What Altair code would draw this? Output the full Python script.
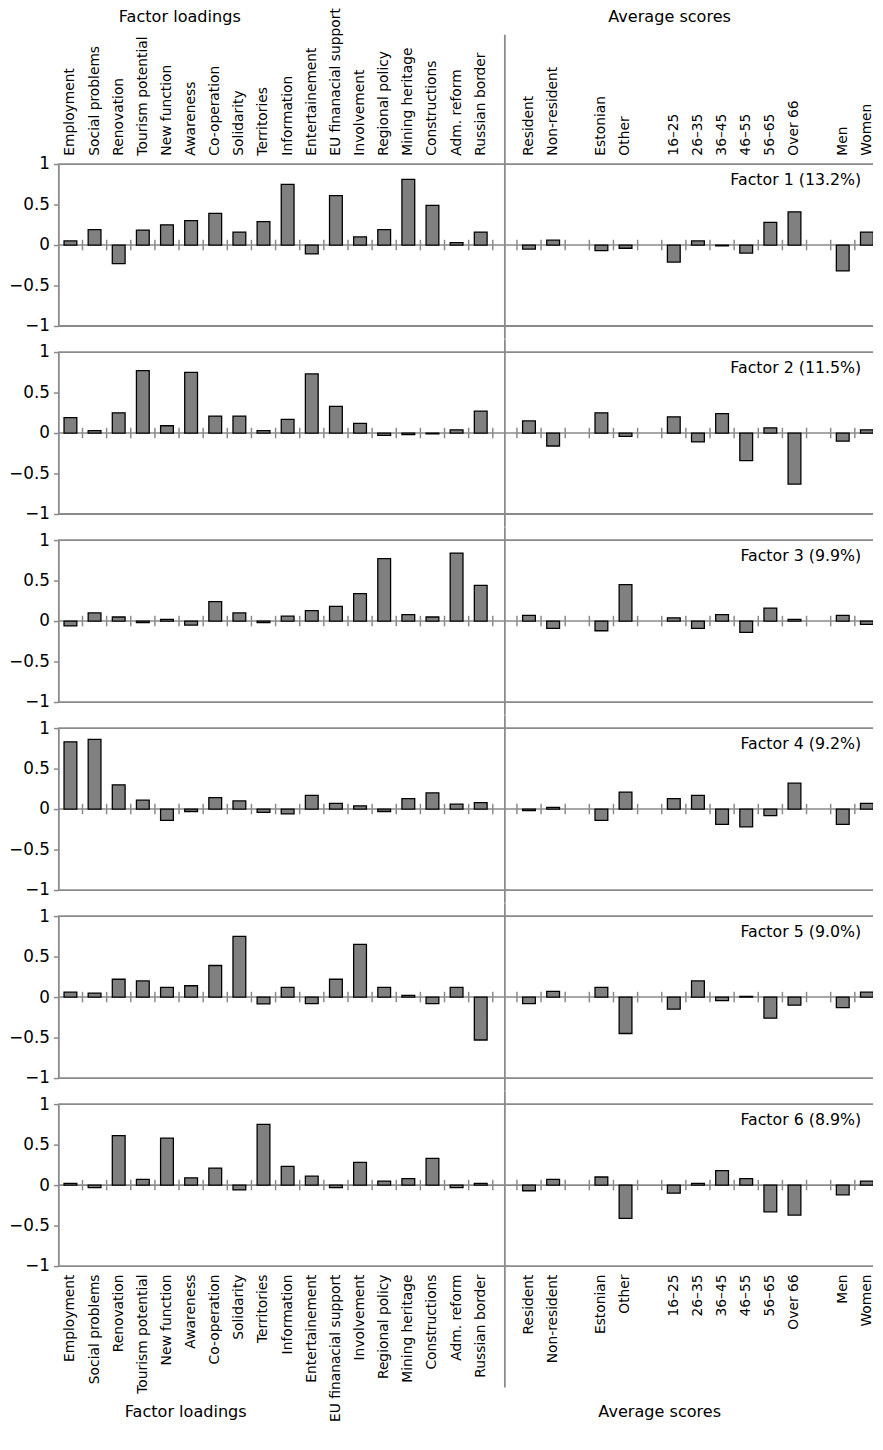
import altair as alt
import pandas as pd

FONT = "DejaVu Sans"

loading_cats = ["Employment", "Social problems", "Renovation", "Tourism potential",
                "New function", "Awareness", "Co-operation", "Solidarity", "Territories",
                "Information", "Entertainement", "EU finanacial support", "Involvement",
                "Regional policy", "Mining heritage", "Constructions", "Adm. reform",
                "Russian border"]
resid_cats = ["Resident", "Non-resident"]
lang_cats = ["Estonian", "Other"]
age_cats = ["16\u201325", "26\u201335", "36\u201345", "46\u201355", "56\u201365", "Over 66"]
sex_cats = ["Men", "Women"]
gaps = [" ", "  ", "   ", "    "]
score_cats = resid_cats + lang_cats + age_cats + sex_cats

categories = (loading_cats + [gaps[0]] + resid_cats + [gaps[1]] + lang_cats + [gaps[2]]
              + age_cats + [gaps[3]] + sex_cats)

factor_titles = ["Factor 1 (13.2%)", "Factor 2 (11.5%)", "Factor 3 (9.9%)",
                 "Factor 4 (9.2%)", "Factor 5 (9.0%)", "Factor 6 (8.9%)"]

loadings_f1 = [0.05, 0.19, -0.23, 0.185, 0.25, 0.30, 0.39, 0.16, 0.29, 0.75, -0.11, 0.61, 0.10, 0.19, 0.81, 0.49, 0.03, 0.16]
loadings_f2 = [0.19, 0.03, 0.25, 0.77, 0.09, 0.75, 0.21, 0.21, 0.03, 0.17, 0.73, 0.33, 0.12, -0.03, -0.02, -0.01, 0.04, 0.27]
loadings_f3 = [-0.06, 0.10, 0.05, -0.02, 0.02, -0.05, 0.24, 0.10, -0.02, 0.06, 0.13, 0.18, 0.34, 0.77, 0.08, 0.05, 0.84, 0.44]
loadings_f4 = [0.83, 0.86, 0.30, 0.11, -0.14, -0.03, 0.14, 0.10, -0.04, -0.06, 0.17, 0.07, 0.04, -0.03, 0.13, 0.20, 0.06, 0.08]
loadings_f5 = [0.06, 0.05, 0.22, 0.20, 0.12, 0.14, 0.39, 0.75, -0.085, 0.12, -0.08, 0.22, 0.65, 0.12, 0.02, -0.08, 0.12, -0.53]
loadings_f6 = [0.02, -0.03, 0.61, 0.07, 0.58, 0.09, 0.21, -0.06, 0.75, 0.23, 0.11, -0.03, 0.28, 0.05, 0.08, 0.33, -0.03, 0.02]

scores_f1 = [-0.05, 0.06, -0.07, -0.04, -0.21, 0.05, -0.01, -0.10, 0.28, 0.41, -0.32, 0.16]
scores_f2 = [0.15, -0.16, 0.25, -0.04, 0.20, -0.11, 0.24, -0.34, 0.065, -0.63, -0.10, 0.04]
scores_f3 = [0.07, -0.09, -0.12, 0.45, 0.04, -0.09, 0.08, -0.14, 0.16, 0.02, 0.07, -0.04]
scores_f4 = [-0.02, 0.02, -0.14, 0.21, 0.13, 0.17, -0.19, -0.22, -0.08, 0.32, -0.19, 0.07]
scores_f5 = [-0.08, 0.07, 0.12, -0.45, -0.15, 0.20, -0.045, 0.01, -0.26, -0.10, -0.13, 0.06]
scores_f6 = [-0.07, 0.07, 0.10, -0.41, -0.10, 0.02, 0.18, 0.08, -0.33, -0.37, -0.12, 0.05]

loadings = [loadings_f1, loadings_f2, loadings_f3, loadings_f4, loadings_f5, loadings_f6]
scores = [scores_f1, scores_f2, scores_f3, scores_f4, scores_f5, scores_f6]

W = 825          # visible plot width (chart runs past the page edge)
RANGE_W = 831    # full category range
H = 164
PAD_IN = 0.47
STEP = RANGE_W / len(categories)
LINE = "#8a8a8a"
N = len(factor_titles)


def panel(i):
    df = pd.DataFrame({"category": loading_cats + score_cats,
                       "value": loadings[i] + scores[i]})
    xs = alt.Scale(domain=categories, range=[0, RANGE_W],
                   paddingInner=PAD_IN, paddingOuter=PAD_IN / 2)
    ys = alt.Scale(domain=[-1, 1], nice=False)

    if i == 0:
        xaxis = alt.Axis(orient="top", labelAngle=-90, domain=False, ticks=False,
                         tickSize=0, labelPadding=9, title=None)
    elif i == N - 1:
        xaxis = alt.Axis(orient="bottom", labelAngle=-90, domain=False, ticks=False,
                         tickSize=0, labelPadding=8, title=None)
    else:
        xaxis = None

    yaxis = alt.Axis(values=[-1, -0.5, 0, 0.5, 1], format=".1~f", title=None,
                     grid=False, domainColor=LINE, domainWidth=1.8, tickColor=LINE,
                     tickWidth=1.5, tickSize=5, labelPadding=4)

    frame_df = pd.DataFrame({"v": [0]})

    zero = alt.Chart(frame_df).mark_rule(color=LINE, strokeWidth=1.6).encode(
        y=alt.YDatum(0, scale=ys, axis=yaxis))
    top = alt.Chart(frame_df).mark_rule(color=LINE, strokeWidth=1.8).encode(
        y=alt.YDatum(1, scale=ys, axis=yaxis))
    bottom = alt.Chart(frame_df).mark_rule(color=LINE, strokeWidth=1.8).encode(
        y=alt.YDatum(-1, scale=ys, axis=yaxis))

    bars = alt.Chart(df).mark_bar(fill="#808080", stroke="black", strokeWidth=1.3,
                                  clip=True).encode(
        x=alt.X("category:N", scale=xs, axis=xaxis),
        y=alt.Y("value:Q", scale=ys, axis=yaxis),
    )

    tick_df = pd.DataFrame({"category": categories[1:]})
    ticks = alt.Chart(tick_df).mark_rule(color=LINE, strokeWidth=1.5,
                                         xOffset=-STEP * PAD_IN / 2).encode(
        x=alt.X("category:N", scale=xs, axis=xaxis, bandPosition=0),
        y=alt.YDatum(-0.065, scale=ys, axis=yaxis),
        y2=alt.Y2Datum(0.065),
    )

    div_top = -131 if i == 0 else -13
    div_bot = H + 123 if i == N - 1 else H + 13
    div_df = pd.DataFrame({"category": [gaps[0]]})
    divider = alt.Chart(div_df).mark_rule(color=LINE, strokeWidth=1.8).encode(
        x=alt.X("category:N", scale=xs, axis=xaxis),
        y=alt.value(div_top), y2=alt.value(div_bot),
    )

    t_df = pd.DataFrame({"title": [factor_titles[i]]})
    title = alt.Chart(t_df).mark_text(align="right", baseline="middle", font=FONT,
                                      fontSize=16, color="black").encode(
        text="title:N", x=alt.value(813), y=alt.value(16))

    layers = [zero, top, bottom, bars, ticks, divider, title]

    if i == 0 or i == N - 1:
        ty = -149 if i == 0 else H + 148
        at_df = pd.DataFrame({"t": ["Factor loadings", "Average scores"]})
        t1 = alt.Chart(at_df).transform_filter(alt.datum.t == "Factor loadings").mark_text(
            font=FONT, fontSize=16.3, color="black", baseline="middle").encode(
            text="t:N", x=alt.value(123 if i == 0 else 129), y=alt.value(ty))
        t2 = alt.Chart(at_df).transform_filter(alt.datum.t == "Average scores").mark_text(
            font=FONT, fontSize=16.3, color="black", baseline="middle").encode(
            text="t:N", x=alt.value(619 if i == 0 else 609), y=alt.value(ty))
        layers += [t1, t2]

    return alt.layer(*layers).properties(width=W, height=H)


chart = alt.vconcat(*[panel(i) for i in range(N)], spacing=26.4, bounds="flush").properties(
    padding={"left": 0, "top": -10, "right": -4, "bottom": 0}
).configure_view(stroke=None).configure_axis(
    labelFont=FONT, labelColor="black", labelFontSize=14
).configure_axisY(labelFontSize=17).configure_axisX(labelFontSize=14)

chart.save("out.html", embed_options={"renderer": "svg", "actions": False})
